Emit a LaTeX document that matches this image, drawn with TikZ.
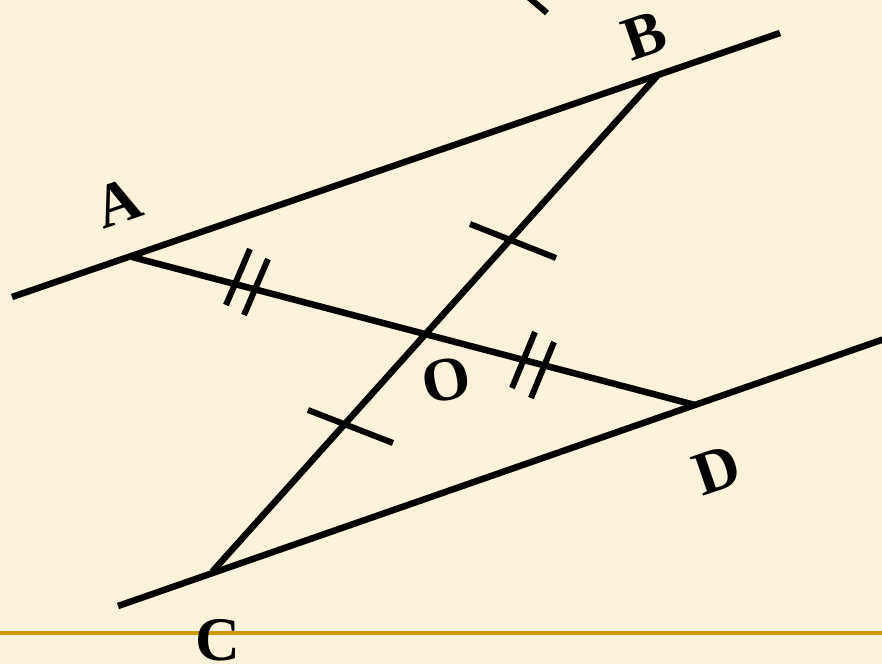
\documentclass[tikz,border=0pt]{standalone}
\usepackage{fontspec}
\setmainfont{Liberation Serif}
\usetikzlibrary{positioning}
\definecolor{paper}{HTML}{FCF2DC}
\definecolor{rule}{HTML}{CC9900}

\begin{document}
\begin{tikzpicture}[x=1pt,y=-1pt,line width=6.5pt,
  lbl/.style={font=\fontsize{62}{62}\selectfont\bfseries,inner sep=0pt,rotate=19},
  tick/.style={line width=6pt}]
  \clip (0,0) rectangle (882,664);
  \fill[paper] (0,0) rectangle (882,664);
  \draw[rule,line width=4pt] (0,633) -- (882,633);
  % points
  \coordinate (A) at (132,257);
  \coordinate (B) at (658,75);
  \coordinate (C) at (212,572);
  \coordinate (D) at (695,405);
  \coordinate (O) at (428,333);
  \coordinate (l1) at (12,297);
  \coordinate (l2) at (780,33);
  \coordinate (m1) at (118,606);
  \coordinate (m2) at (890,337);
  % lines
  \draw (l1) -- (l2);
  \draw (m1) -- (m2);
  \draw (A) -- (D);
  \draw (B) -- (C);
  % ticks
  \draw[tick] (470,224) -- (556,258);
  \draw[tick] (308,410) -- (393,443);
  \foreach \x/\y in {0/0,18/10} {
    \draw[tick] (250+\x,249+\y) -- (226+\x,305+\y);
  }
  \foreach \x/\y in {0/0,19/10} {
    \draw[tick] (535+\x,332+\y) -- (512+\x,388+\y);
  }
  \draw[tick] (527,-4) -- (547,13);
  % labels
  \node[lbl] (lA) at (118,203) {A};
  \node[lbl] (lB) at (644,36) {B};
  \node[lbl,rotate=-8] (lO) at (446,380) {O};
  \node[lbl] (lD) at (717,470) {D};
  \node[lbl,rotate=-19] (lC) at (218,640) {C};
\end{tikzpicture}
\end{document}
